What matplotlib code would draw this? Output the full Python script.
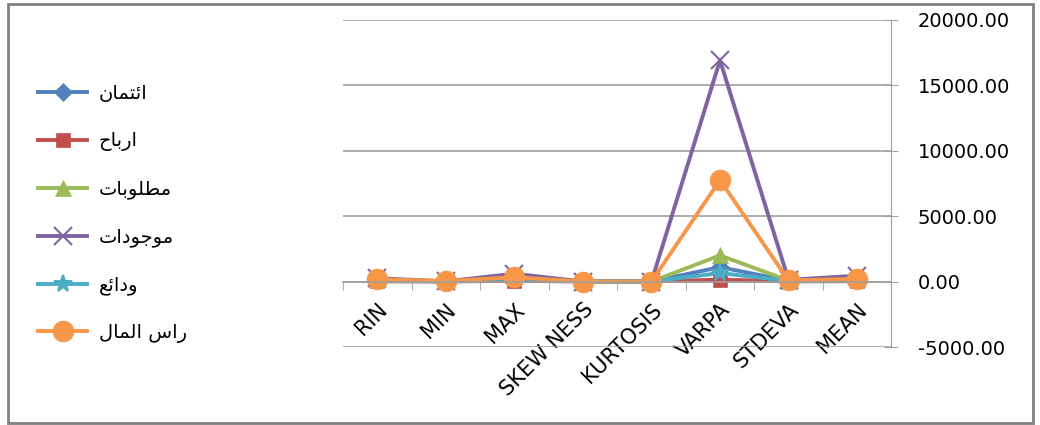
import matplotlib
matplotlib.use("Agg")
import matplotlib.pyplot as plt
from matplotlib.patches import Rectangle
from matplotlib.ticker import FixedLocator, FormatStrFormatter

plt.rcParams['font.family'] = ['DejaVu Sans']

categories = ['RIN', 'MIN', 'MAX', 'SKEW NESS', 'KURTOSIS', 'VARPA', 'STDEVA', 'MEAN']

# series names (legend, top to bottom)
names = ['ائتمان', 'ارباح', 'مطلوبات', 'موجودات', 'ودائع', 'راس المال']

credit = [120, 10, 300, 1, 2, 1100, 60, 150]
profits = [20, 5, 60, 1, 3, 150, 15, 30]
liabilities = [180, 10, 450, 1, 2, 2000, 80, 220]
assets = [250, 20, 600, 1, 3, 16900, 130, 450]
deposits = [90, 5, 250, 1, 2, 650, 50, 110]
capital = [170, 40, 330, 0.5, 2, 7750, 85, 200]

series = [credit, profits, liabilities, assets, deposits, capital]
colors = ['#4F81BD', '#C0504D', '#9BBB59', '#8064A2', '#4BACC6', '#F79646']
markers = ['D', 's', '^', 'x', '*', 'o']
msizes = [9, 10, 11, 13, 13, 15]

# --- minimal arabic shaping (matplotlib draws glyphs left to right, unjoined)
dual = {'ئ': (0xFE89, 0xFE8A, 0xFE8B, 0xFE8C), 'ب': (0xFE8F, 0xFE90, 0xFE91, 0xFE92),
        'ت': (0xFE95, 0xFE96, 0xFE97, 0xFE98), 'ج': (0xFE9D, 0xFE9E, 0xFE9F, 0xFEA0),
        'ح': (0xFEA1, 0xFEA2, 0xFEA3, 0xFEA4), 'س': (0xFEB1, 0xFEB2, 0xFEB3, 0xFEB4),
        'ط': (0xFEC1, 0xFEC2, 0xFEC3, 0xFEC4), 'ع': (0xFEC9, 0xFECA, 0xFECB, 0xFECC),
        'ل': (0xFEDD, 0xFEDE, 0xFEDF, 0xFEE0), 'م': (0xFEE1, 0xFEE2, 0xFEE3, 0xFEE4),
        'ن': (0xFEE5, 0xFEE6, 0xFEE7, 0xFEE8)}
right = {'ا': (0xFE8D, 0xFE8E), 'د': (0xFEA9, 0xFEAA), 'ر': (0xFEAD, 0xFEAE), 'و': (0xFEED, 0xFEEE)}


def shape(text):
    out = []
    for i, ch in enumerate(text):
        if ch not in dual and ch not in right:
            out.append(ch)
            continue
        prev = i > 0 and text[i - 1] in dual
        nxt = ch in dual and i < len(text) - 1 and (text[i + 1] in dual or text[i + 1] in right)
        if ch in right:
            out.append(chr(right[ch][1] if prev else right[ch][0]))
        else:
            f = dual[ch]
            if prev and nxt:
                out.append(chr(f[3]))
            elif prev:
                out.append(chr(f[1]))
            elif nxt:
                out.append(chr(f[2]))
            else:
                out.append(chr(f[0]))
    return ''.join(out)[::-1]


fig = plt.figure(figsize=(10.4, 4.25), dpi=100)
ax = fig.add_axes([0.33, 0.1835, 0.527, 0.77])

x = list(range(len(categories)))
for vals, name, c, m, ms in zip(series, names, colors, markers, msizes):
    ax.plot(x, vals, color=c, lw=2.8, marker=m, markersize=ms, markeredgewidth=1.5 if m in 'x*' else 0.5,
            markeredgecolor=c, label=shape(name))

ax.set_xlim(-0.5, len(categories) - 0.5)
ax.set_ylim(-5000, 20000)
ax.set_yticks([-5000, 0, 5000, 10000, 15000, 20000])
ax.yaxis.set_major_formatter(FormatStrFormatter('%.2f'))
ax.yaxis.tick_right()
ax.grid(axis='y', color='#A0A0A0', lw=1.2)
ax.set_axisbelow(True)
ax.tick_params(axis='y', direction='inout', length=10, color='#A0A0A0', labelsize=14, pad=14)

ax.spines['left'].set_visible(False)
ax.spines['top'].set_visible(False)
ax.spines['right'].set_color('#A0A0A0')
ax.spines['bottom'].set_position(('data', 0))
ax.spines['bottom'].set_color('#A0A0A0')
ax.spines['bottom'].set_linewidth(1.2)

ax.set_xticks(x)
ax.set_xticklabels(categories, rotation=45, ha='right', rotation_mode='anchor', fontsize=15)
ax.tick_params(axis='x', length=0, pad=13)
ax.xaxis.set_minor_locator(FixedLocator([i - 0.5 for i in range(len(categories) + 1)]))
ax.tick_params(axis='x', which='minor', length=6, direction='out', color='#A0A0A0')

ax.legend(loc='center left', bbox_to_anchor=(0.02, 0.497), bbox_transform=fig.transFigure,
          frameon=False, fontsize=14, labelspacing=1.45, handlelength=2.5, handletextpad=0.6)

fig.patches.append(Rectangle((0.008, 0.005), 0.985, 0.985, transform=fig.transFigure,
                             fill=False, edgecolor='#808080', lw=2))

fig.savefig('out.png', dpi=100)
